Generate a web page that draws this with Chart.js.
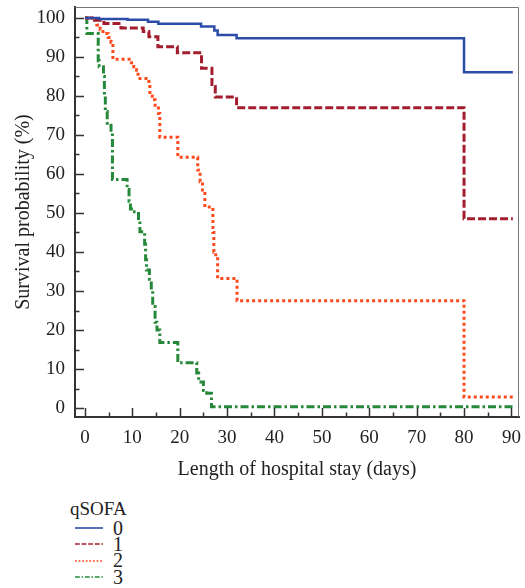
<!DOCTYPE html>
<html>
<head>
<meta charset="utf-8">
<script src="https://cdn.jsdelivr.net/npm/chart.js@4/dist/chart.umd.min.js"></script>
<style>
  html, body { margin: 0; padding: 0; background: #fff; }
  #wrap { position: relative; width: 525px; height: 588px; font-family: "Liberation Serif", "Times New Roman", serif; color: #222; }
  #box { position: absolute; left: 0; top: 0; width: 525px; height: 490px; }
  #legend { position: absolute; left: 70px; top: 498px; }
  #legend .title { font-size: 19px; line-height: 22px; }
  #legend .row { display: flex; align-items: center; height: 16.3px; font-size: 20px; }
  #legend svg { margin: 0 10px 0 5px; }
</style>
</head>
<body>
<div id="wrap">
  <div id="box"><canvas id="graph"></canvas></div>
  <div id="legend"></div>
</div>
<script>
// qSOFA groups
const groups = ["0", "1", "2", "3"];

// Kaplan-Meier steps: day of drop and survival (%) from that day on
const daysQ0 = [0, 3, 9, 13.3, 15.5, 24.5, 27.3, 28, 32, 80, 90.3];
const survQ0 = [100, 99.7, 99.5, 99.0, 98.5, 97.8, 96.8, 95.6, 94.8, 86.1, 86.1];

const daysQ1 = [0, 2, 4, 7.6, 12.3, 13.5, 15.4, 19.5, 24.6, 26.8, 27.5, 32, 80, 90.3];
const survQ1 = [100, 99.4, 98.6, 97.4, 96.5, 95.2, 92.6, 91.1, 87.1, 82.4, 79.7, 77, 48.5, 48.5];

const daysQ2 = [0, 2, 2.5, 3.2, 3.8, 4.9, 5.5, 5.9, 9.8, 10.3, 10.9, 11.2, 13.5, 13.7, 14.2, 14.8, 15.5, 15.8, 19.6, 23.8, 24.3, 24.8, 25.3, 27, 27.2, 27.6, 28, 32.1, 80, 90.3];
const survQ2 = [100, 99.5, 98.2, 97, 96, 95, 93.7, 89.4, 88.5, 87.5, 86.6, 84.5, 83, 80, 79, 77.6, 75.5, 69.4, 64.3, 61, 58, 55, 51.5, 45, 40, 38.8, 33.2, 27.5, 2.8, 2.8];

const daysQ3 = [0, 0.4, 2.8, 3, 3.9, 4.1, 4.3, 4.7, 5.5, 5.8, 8.9, 9.3, 9.6, 9.8, 11.3, 11.6, 12.6, 12.8, 13, 13.6, 14, 14.3, 14.8, 15.2, 15.8, 19.6, 23.6, 24, 25, 25.7, 26.7, 90.3];
const survQ3 = [100, 96, 89, 87.5, 85, 80, 76, 73, 70.5, 58.6, 56, 53, 51, 50.3, 48, 45.2, 42, 38, 35.4, 33, 30, 26, 22, 20, 16.8, 11.6, 9, 6.7, 4.5, 3.8, 0.3, 0.3];

const xTicks = [0, 5, 10, 15, 20, 25, 30, 35, 40, 45, 50, 55, 60, 65, 70, 75, 80, 85, 90];
const yTicks = [0, 5, 10, 15, 20, 25, 30, 35, 40, 45, 50, 55, 60, 65, 70, 75, 80, 85, 90, 95, 100];

const styles = [
    { color: "#2d4ca8", width: 2.5, dash: [] },
    { color: "#a31d2e", width: 3, dash: [8, 3] },
    { color: "#ff4a1e", width: 3, dash: [3, 3] },
    { color: "#26893a", width: 3, dash: [8, 3, 2.5, 3] }
];

const allDays = [daysQ0, daysQ1, daysQ2, daysQ3];
const allSurv = [survQ0, survQ1, survQ2, survQ3];

function toPoints(days, surv) {
    return days.map((d, i) => ({ x: d, y: surv[i] }));
}

// inward tick marks and the thin top/right frame
const frame = {
    id: "frame",
    afterDraw(chart) {
        const { ctx, chartArea: a, scales: { x, y } } = chart;
        ctx.save();
        ctx.strokeStyle = "#777";
        ctx.lineWidth = 1;
        ctx.beginPath();
        ctx.moveTo(a.left, a.top + 0.5);
        ctx.lineTo(a.right - 0.5, a.top + 0.5);
        ctx.lineTo(a.right - 0.5, a.bottom);
        ctx.stroke();

        ctx.strokeStyle = "#333";
        ctx.lineWidth = 1.5;
        ctx.beginPath();
        xTicks.forEach(v => {
            const px = Math.round(x.getPixelForValue(v)) + 0.5;
            const len = v % 10 === 0 ? 9 : 4.5;
            ctx.moveTo(px, a.bottom);
            ctx.lineTo(px, a.bottom - len);
        });
        yTicks.forEach(v => {
            const py = Math.round(y.getPixelForValue(v)) + 0.5;
            const len = v % 10 === 0 ? 9 : 4.5;
            ctx.moveTo(a.left, py);
            ctx.lineTo(a.left + len, py);
        });
        ctx.stroke();
        ctx.restore();
    }
};

const serif = "'Liberation Serif', 'Times New Roman', serif";

const ctx = document.getElementById("graph").getContext("2d");
new Chart(ctx, {
    type: "line",
    data: {
        datasets: groups.map((g, i) => ({
            label: g,
            data: toPoints(allDays[i], allSurv[i]),
            stepped: true,
            borderColor: styles[i].color,
            borderWidth: styles[i].width,
            borderDash: styles[i].dash,
            pointRadius: 0,
            fill: false
        }))
    },
    options: {
        responsive: true,
        maintainAspectRatio: false,
        animation: false,
        layout: { padding: { left: 0, top: 7, right: 6, bottom: 0 } },
        plugins: {
            legend: { display: false },
            tooltip: { enabled: false }
        },
        scales: {
            x: {
                type: "linear",
                min: -2.1,
                max: 91.6,
                afterBuildTicks: scale => { scale.ticks = xTicks.map(v => ({ value: v })); },
                afterFit: scale => {
                    scale.height = 73;
                    scale.paddingLeft = 0;
                    scale.paddingRight = 0;
                },
                grid: { display: false, drawTicks: false },
                border: { display: true, color: "#333", width: 2 },
                ticks: {
                    autoSkip: false,
                    maxRotation: 0,
                    padding: 10,
                    color: "#222",
                    font: { family: serif, size: 19 },
                    callback: v => (v % 10 === 0 ? v : "")
                },
                title: {
                    display: true,
                    text: "Length of hospital stay (days)",
                    color: "#222",
                    font: { family: serif, size: 20 },
                    padding: { top: 0, bottom: 8 }
                }
            },
            y: {
                type: "linear",
                min: -2.3,
                max: 102.8,
                afterBuildTicks: scale => { scale.ticks = yTicks.map(v => ({ value: v })); },
                afterFit: scale => {
                    scale.width = 75;
                    scale.paddingTop = 0;
                    scale.paddingBottom = 0;
                },
                grid: { display: false, drawTicks: false },
                border: { display: true, color: "#333", width: 2 },
                ticks: {
                    autoSkip: false,
                    padding: 10,
                    color: "#222",
                    font: { family: serif, size: 19 },
                    callback: v => (v % 10 === 0 ? v : "")
                },
                title: {
                    display: true,
                    text: "Survival probability (%)",
                    color: "#222",
                    font: { family: serif, size: 20 },
                    padding: { top: 12, bottom: 0 }
                }
            }
        }
    },
    plugins: [frame]
});

// legend built from the same groups and styles
const legend = document.getElementById("legend");
legend.innerHTML = '<div class="title">qSOFA</div>' + groups.map((g, i) => {
    const s = styles[i];
    return '<div class="row"><svg width="28" height="4"><line x1="0" y1="2" x2="28" y2="2" stroke="' + s.color +
        '" stroke-width="1.6" stroke-dasharray="' + (s.dash.length ? s.dash.map(d => d * 0.6).join(",") : "none") +
        '"/></svg><span>' + g + '</span></div>';
}).join("");
</script>
</body>
</html>
